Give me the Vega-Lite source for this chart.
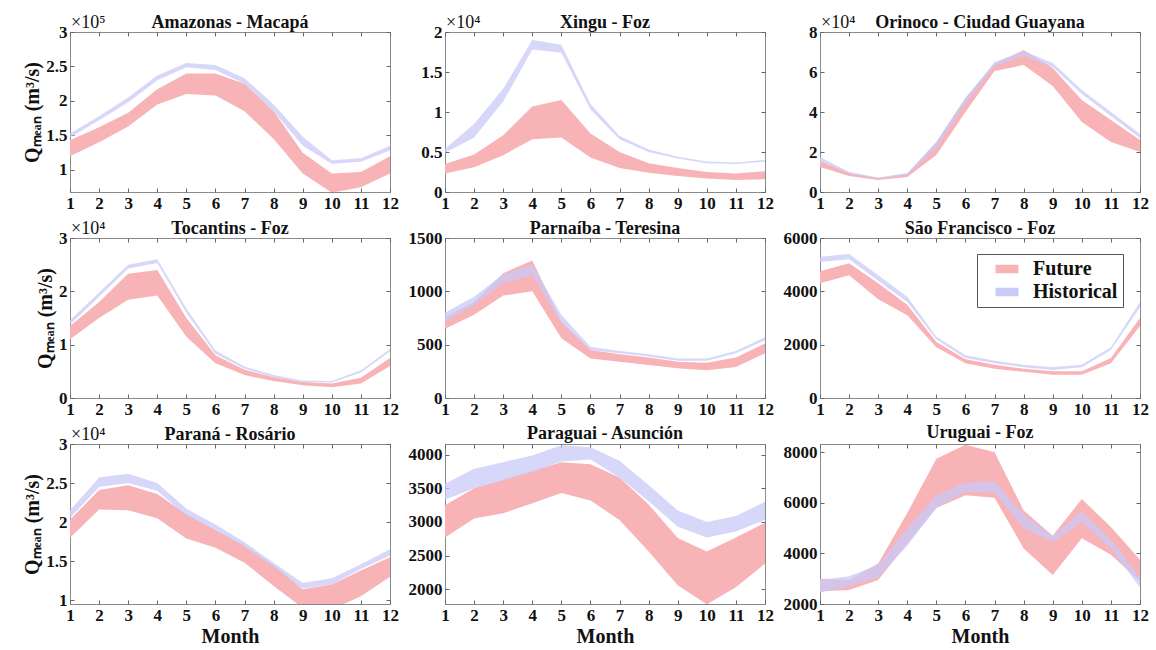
{
"$schema": "https://vega.github.io/schema/vega-lite/v6.json",
"background": "white",
"padding": {"left": 22, "top": 13, "right": 5, "bottom": 0},
"datasets": {
"q": [
{"r":"Amazonas","m":1,"s":"Future","lo":120000,"hi":143000},{"r":"Amazonas","m":2,"s":"Future","lo":140000,"hi":162000},{"r":"Amazonas","m":3,"s":"Future","lo":163000,"hi":183000},{"r":"Amazonas","m":4,"s":"Future","lo":195000,"hi":217000},{"r":"Amazonas","m":5,"s":"Future","lo":210000,"hi":240000},{"r":"Amazonas","m":6,"s":"Future","lo":208000,"hi":240000},{"r":"Amazonas","m":7,"s":"Future","lo":185000,"hi":225000},{"r":"Amazonas","m":8,"s":"Future","lo":145000,"hi":185000},{"r":"Amazonas","m":9,"s":"Future","lo":95000,"hi":125000},{"r":"Amazonas","m":10,"s":"Future","lo":67000,"hi":95000},{"r":"Amazonas","m":11,"s":"Future","lo":75000,"hi":97000},{"r":"Amazonas","m":12,"s":"Future","lo":95000,"hi":120000},
{"r":"Amazonas","m":1,"s":"Historical","lo":147000,"hi":153000},{"r":"Amazonas","m":2,"s":"Historical","lo":172000,"hi":178000},{"r":"Amazonas","m":3,"s":"Historical","lo":198000,"hi":205000},{"r":"Amazonas","m":4,"s":"Historical","lo":230000,"hi":237000},{"r":"Amazonas","m":5,"s":"Historical","lo":249000,"hi":255000},{"r":"Amazonas","m":6,"s":"Historical","lo":245000,"hi":252000},{"r":"Amazonas","m":7,"s":"Historical","lo":225000,"hi":233000},{"r":"Amazonas","m":8,"s":"Historical","lo":185000,"hi":195000},{"r":"Amazonas","m":9,"s":"Historical","lo":135000,"hi":148000},{"r":"Amazonas","m":10,"s":"Historical","lo":109000,"hi":114000},{"r":"Amazonas","m":11,"s":"Historical","lo":112000,"hi":117000},{"r":"Amazonas","m":12,"s":"Historical","lo":128000,"hi":135000},
{"r":"Xingu","m":1,"s":"Future","lo":2300,"hi":3500},{"r":"Xingu","m":2,"s":"Future","lo":3100,"hi":4700},{"r":"Xingu","m":3,"s":"Future","lo":4600,"hi":7100},{"r":"Xingu","m":4,"s":"Future","lo":6600,"hi":10700},{"r":"Xingu","m":5,"s":"Future","lo":6800,"hi":11500},{"r":"Xingu","m":6,"s":"Future","lo":4300,"hi":7300},{"r":"Xingu","m":7,"s":"Future","lo":3000,"hi":5000},{"r":"Xingu","m":8,"s":"Future","lo":2400,"hi":3600},{"r":"Xingu","m":9,"s":"Future","lo":2000,"hi":3000},{"r":"Xingu","m":10,"s":"Future","lo":1700,"hi":2500},{"r":"Xingu","m":11,"s":"Future","lo":1500,"hi":2300},{"r":"Xingu","m":12,"s":"Future","lo":1600,"hi":2600},
{"r":"Xingu","m":1,"s":"Historical","lo":4900,"hi":5400},{"r":"Xingu","m":2,"s":"Historical","lo":6800,"hi":8500},{"r":"Xingu","m":3,"s":"Historical","lo":11300,"hi":12900},{"r":"Xingu","m":4,"s":"Historical","lo":17800,"hi":19000},{"r":"Xingu","m":5,"s":"Historical","lo":17400,"hi":18400},{"r":"Xingu","m":6,"s":"Historical","lo":10300,"hi":11000},{"r":"Xingu","m":7,"s":"Historical","lo":6600,"hi":7000},{"r":"Xingu","m":8,"s":"Historical","lo":5000,"hi":5300},{"r":"Xingu","m":9,"s":"Historical","lo":4200,"hi":4400},{"r":"Xingu","m":10,"s":"Historical","lo":3600,"hi":3800},{"r":"Xingu","m":11,"s":"Historical","lo":3500,"hi":3700},{"r":"Xingu","m":12,"s":"Historical","lo":3800,"hi":4000},
{"r":"Orinoco","m":1,"s":"Future","lo":12500,"hi":15500},{"r":"Orinoco","m":2,"s":"Future","lo":8000,"hi":9500},{"r":"Orinoco","m":3,"s":"Future","lo":6000,"hi":7000},{"r":"Orinoco","m":4,"s":"Future","lo":7500,"hi":9000},{"r":"Orinoco","m":5,"s":"Future","lo":18500,"hi":25000},{"r":"Orinoco","m":6,"s":"Future","lo":40000,"hi":47000},{"r":"Orinoco","m":7,"s":"Future","lo":60500,"hi":64000},{"r":"Orinoco","m":8,"s":"Future","lo":63500,"hi":71000},{"r":"Orinoco","m":9,"s":"Future","lo":53000,"hi":62000},{"r":"Orinoco","m":10,"s":"Future","lo":35000,"hi":46000},{"r":"Orinoco","m":11,"s":"Future","lo":25000,"hi":36000},{"r":"Orinoco","m":12,"s":"Future","lo":20000,"hi":26000},
{"r":"Orinoco","m":1,"s":"Historical","lo":15500,"hi":17500},{"r":"Orinoco","m":2,"s":"Historical","lo":9000,"hi":10000},{"r":"Orinoco","m":3,"s":"Historical","lo":6500,"hi":7200},{"r":"Orinoco","m":4,"s":"Historical","lo":8500,"hi":9500},{"r":"Orinoco","m":5,"s":"Historical","lo":22000,"hi":25000},{"r":"Orinoco","m":6,"s":"Historical","lo":44000,"hi":47000},{"r":"Orinoco","m":7,"s":"Historical","lo":63000,"hi":65000},{"r":"Orinoco","m":8,"s":"Historical","lo":68000,"hi":70500},{"r":"Orinoco","m":9,"s":"Historical","lo":62500,"hi":64500},{"r":"Orinoco","m":10,"s":"Historical","lo":49000,"hi":51000},{"r":"Orinoco","m":11,"s":"Historical","lo":38000,"hi":40000},{"r":"Orinoco","m":12,"s":"Historical","lo":27000,"hi":29000},
{"r":"Tocantins","m":1,"s":"Future","lo":11000,"hi":13500},{"r":"Tocantins","m":2,"s":"Future","lo":15000,"hi":18000},{"r":"Tocantins","m":3,"s":"Future","lo":18400,"hi":23300},{"r":"Tocantins","m":4,"s":"Future","lo":19200,"hi":24000},{"r":"Tocantins","m":5,"s":"Future","lo":11500,"hi":15000},{"r":"Tocantins","m":6,"s":"Future","lo":6500,"hi":8000},{"r":"Tocantins","m":7,"s":"Future","lo":4300,"hi":5300},{"r":"Tocantins","m":8,"s":"Future","lo":3200,"hi":3900},{"r":"Tocantins","m":9,"s":"Future","lo":2400,"hi":3000},{"r":"Tocantins","m":10,"s":"Future","lo":2000,"hi":2700},{"r":"Tocantins","m":11,"s":"Future","lo":2700,"hi":3800},{"r":"Tocantins","m":12,"s":"Future","lo":6000,"hi":7500},
{"r":"Tocantins","m":1,"s":"Historical","lo":13800,"hi":14600},{"r":"Tocantins","m":2,"s":"Historical","lo":19000,"hi":19800},{"r":"Tocantins","m":3,"s":"Historical","lo":24300,"hi":25000},{"r":"Tocantins","m":4,"s":"Historical","lo":25300,"hi":26000},{"r":"Tocantins","m":5,"s":"Historical","lo":16000,"hi":16800},{"r":"Tocantins","m":6,"s":"Historical","lo":8300,"hi":8900},{"r":"Tocantins","m":7,"s":"Historical","lo":5500,"hi":5900},{"r":"Tocantins","m":8,"s":"Historical","lo":3900,"hi":4300},{"r":"Tocantins","m":9,"s":"Historical","lo":3000,"hi":3300},{"r":"Tocantins","m":10,"s":"Historical","lo":2900,"hi":3200},{"r":"Tocantins","m":11,"s":"Historical","lo":4800,"hi":5200},{"r":"Tocantins","m":12,"s":"Historical","lo":8700,"hi":9200},
{"r":"Parnaiba","m":1,"s":"Future","lo":650,"hi":760},{"r":"Parnaiba","m":2,"s":"Future","lo":780,"hi":900},{"r":"Parnaiba","m":3,"s":"Future","lo":960,"hi":1170},{"r":"Parnaiba","m":4,"s":"Future","lo":1000,"hi":1290},{"r":"Parnaiba","m":5,"s":"Future","lo":560,"hi":720},{"r":"Parnaiba","m":6,"s":"Future","lo":370,"hi":450},{"r":"Parnaiba","m":7,"s":"Future","lo":340,"hi":410},{"r":"Parnaiba","m":8,"s":"Future","lo":310,"hi":380},{"r":"Parnaiba","m":9,"s":"Future","lo":280,"hi":340},{"r":"Parnaiba","m":10,"s":"Future","lo":260,"hi":330},{"r":"Parnaiba","m":11,"s":"Future","lo":290,"hi":380},{"r":"Parnaiba","m":12,"s":"Future","lo":420,"hi":510},
{"r":"Parnaiba","m":1,"s":"Historical","lo":720,"hi":800},{"r":"Parnaiba","m":2,"s":"Historical","lo":870,"hi":950},{"r":"Parnaiba","m":3,"s":"Historical","lo":1080,"hi":1160},{"r":"Parnaiba","m":4,"s":"Historical","lo":1150,"hi":1250},{"r":"Parnaiba","m":5,"s":"Historical","lo":700,"hi":780},{"r":"Parnaiba","m":6,"s":"Historical","lo":450,"hi":480},{"r":"Parnaiba","m":7,"s":"Historical","lo":420,"hi":440},{"r":"Parnaiba","m":8,"s":"Historical","lo":390,"hi":410},{"r":"Parnaiba","m":9,"s":"Historical","lo":350,"hi":370},{"r":"Parnaiba","m":10,"s":"Historical","lo":350,"hi":370},{"r":"Parnaiba","m":11,"s":"Historical","lo":420,"hi":440},{"r":"Parnaiba","m":12,"s":"Historical","lo":540,"hi":570},
{"r":"SaoFrancisco","m":1,"s":"Future","lo":4300,"hi":4750},{"r":"SaoFrancisco","m":2,"s":"Future","lo":4600,"hi":5050},{"r":"SaoFrancisco","m":3,"s":"Future","lo":3700,"hi":4300},{"r":"SaoFrancisco","m":4,"s":"Future","lo":3100,"hi":3500},{"r":"SaoFrancisco","m":5,"s":"Future","lo":1900,"hi":2100},{"r":"SaoFrancisco","m":6,"s":"Future","lo":1300,"hi":1450},{"r":"SaoFrancisco","m":7,"s":"Future","lo":1100,"hi":1250},{"r":"SaoFrancisco","m":8,"s":"Future","lo":980,"hi":1100},{"r":"SaoFrancisco","m":9,"s":"Future","lo":870,"hi":1000},{"r":"SaoFrancisco","m":10,"s":"Future","lo":870,"hi":1000},{"r":"SaoFrancisco","m":11,"s":"Future","lo":1300,"hi":1500},{"r":"SaoFrancisco","m":12,"s":"Future","lo":2700,"hi":3000},
{"r":"SaoFrancisco","m":1,"s":"Historical","lo":5100,"hi":5300},{"r":"SaoFrancisco","m":2,"s":"Historical","lo":5200,"hi":5400},{"r":"SaoFrancisco","m":3,"s":"Historical","lo":4400,"hi":4600},{"r":"SaoFrancisco","m":4,"s":"Historical","lo":3600,"hi":3800},{"r":"SaoFrancisco","m":5,"s":"Historical","lo":2200,"hi":2300},{"r":"SaoFrancisco","m":6,"s":"Historical","lo":1500,"hi":1600},{"r":"SaoFrancisco","m":7,"s":"Historical","lo":1300,"hi":1400},{"r":"SaoFrancisco","m":8,"s":"Historical","lo":1150,"hi":1250},{"r":"SaoFrancisco","m":9,"s":"Historical","lo":1050,"hi":1150},{"r":"SaoFrancisco","m":10,"s":"Historical","lo":1150,"hi":1250},{"r":"SaoFrancisco","m":11,"s":"Historical","lo":1800,"hi":1900},{"r":"SaoFrancisco","m":12,"s":"Historical","lo":3400,"hi":3600},
{"r":"Parana","m":1,"s":"Future","lo":18000,"hi":20300},{"r":"Parana","m":2,"s":"Future","lo":21600,"hi":24100},{"r":"Parana","m":3,"s":"Future","lo":21500,"hi":24700},{"r":"Parana","m":4,"s":"Future","lo":20500,"hi":23600},{"r":"Parana","m":5,"s":"Future","lo":17900,"hi":21000},{"r":"Parana","m":6,"s":"Future","lo":16700,"hi":19000},{"r":"Parana","m":7,"s":"Future","lo":14800,"hi":17000},{"r":"Parana","m":8,"s":"Future","lo":11800,"hi":14500},{"r":"Parana","m":9,"s":"Future","lo":9000,"hi":11400},{"r":"Parana","m":10,"s":"Future","lo":8800,"hi":12000},{"r":"Parana","m":11,"s":"Future","lo":10500,"hi":13800},{"r":"Parana","m":12,"s":"Future","lo":13000,"hi":15500},
{"r":"Parana","m":1,"s":"Historical","lo":20500,"hi":21500},{"r":"Parana","m":2,"s":"Historical","lo":24500,"hi":25700},{"r":"Parana","m":3,"s":"Historical","lo":25000,"hi":26200},{"r":"Parana","m":4,"s":"Historical","lo":24000,"hi":25000},{"r":"Parana","m":5,"s":"Historical","lo":20800,"hi":21700},{"r":"Parana","m":6,"s":"Historical","lo":19000,"hi":19700},{"r":"Parana","m":7,"s":"Historical","lo":16800,"hi":17400},{"r":"Parana","m":8,"s":"Historical","lo":14200,"hi":14800},{"r":"Parana","m":9,"s":"Historical","lo":11500,"hi":12200},{"r":"Parana","m":10,"s":"Historical","lo":12000,"hi":12800},{"r":"Parana","m":11,"s":"Historical","lo":14000,"hi":14600},{"r":"Parana","m":12,"s":"Historical","lo":15700,"hi":16500},
{"r":"Paraguai","m":1,"s":"Future","lo":2770,"hi":3250},{"r":"Paraguai","m":2,"s":"Future","lo":3050,"hi":3500},{"r":"Paraguai","m":3,"s":"Future","lo":3130,"hi":3630},{"r":"Paraguai","m":4,"s":"Future","lo":3280,"hi":3760},{"r":"Paraguai","m":5,"s":"Future","lo":3430,"hi":3890},{"r":"Paraguai","m":6,"s":"Future","lo":3320,"hi":3860},{"r":"Paraguai","m":7,"s":"Future","lo":3030,"hi":3660},{"r":"Paraguai","m":8,"s":"Future","lo":2560,"hi":3260},{"r":"Paraguai","m":9,"s":"Future","lo":2060,"hi":2760},{"r":"Paraguai","m":10,"s":"Future","lo":1775,"hi":2560},{"r":"Paraguai","m":11,"s":"Future","lo":2030,"hi":2770},{"r":"Paraguai","m":12,"s":"Future","lo":2380,"hi":2990},
{"r":"Paraguai","m":1,"s":"Historical","lo":3330,"hi":3570},{"r":"Paraguai","m":2,"s":"Historical","lo":3500,"hi":3790},{"r":"Paraguai","m":3,"s":"Historical","lo":3620,"hi":3890},{"r":"Paraguai","m":4,"s":"Historical","lo":3740,"hi":3990},{"r":"Paraguai","m":5,"s":"Historical","lo":3900,"hi":4140},{"r":"Paraguai","m":6,"s":"Historical","lo":3930,"hi":4110},{"r":"Paraguai","m":7,"s":"Historical","lo":3660,"hi":3910},{"r":"Paraguai","m":8,"s":"Historical","lo":3310,"hi":3550},{"r":"Paraguai","m":9,"s":"Historical","lo":2930,"hi":3170},{"r":"Paraguai","m":10,"s":"Historical","lo":2770,"hi":3000},{"r":"Paraguai","m":11,"s":"Historical","lo":2860,"hi":3090},{"r":"Paraguai","m":12,"s":"Historical","lo":3030,"hi":3300},
{"r":"Uruguai","m":1,"s":"Future","lo":2500,"hi":3000},{"r":"Uruguai","m":2,"s":"Future","lo":2550,"hi":2950},{"r":"Uruguai","m":3,"s":"Future","lo":2950,"hi":3600},{"r":"Uruguai","m":4,"s":"Future","lo":4400,"hi":5600},{"r":"Uruguai","m":5,"s":"Future","lo":5800,"hi":7750},{"r":"Uruguai","m":6,"s":"Future","lo":6300,"hi":8300},{"r":"Uruguai","m":7,"s":"Future","lo":6200,"hi":8000},{"r":"Uruguai","m":8,"s":"Future","lo":4200,"hi":5700},{"r":"Uruguai","m":9,"s":"Future","lo":3150,"hi":4700},{"r":"Uruguai","m":10,"s":"Future","lo":4600,"hi":6150},{"r":"Uruguai","m":11,"s":"Future","lo":3950,"hi":5050},{"r":"Uruguai","m":12,"s":"Future","lo":2900,"hi":3750},
{"r":"Uruguai","m":1,"s":"Historical","lo":2450,"hi":2950},{"r":"Uruguai","m":2,"s":"Historical","lo":2700,"hi":3100},{"r":"Uruguai","m":3,"s":"Historical","lo":3050,"hi":3550},{"r":"Uruguai","m":4,"s":"Historical","lo":4300,"hi":5000},{"r":"Uruguai","m":5,"s":"Historical","lo":5800,"hi":6300},{"r":"Uruguai","m":6,"s":"Historical","lo":6450,"hi":6800},{"r":"Uruguai","m":7,"s":"Historical","lo":6400,"hi":6850},{"r":"Uruguai","m":8,"s":"Historical","lo":5000,"hi":5550},{"r":"Uruguai","m":9,"s":"Historical","lo":4450,"hi":4700},{"r":"Uruguai","m":10,"s":"Historical","lo":5250,"hi":5650},{"r":"Uruguai","m":11,"s":"Historical","lo":4200,"hi":4550},{"r":"Uruguai","m":12,"s":"Historical","lo":2650,"hi":3050}
]
},
"columns": 3,
"spacing": {"row": 46, "column": 55},
"bounds": "flush",
"concat": [
{"title": {"text": "Amazonas - Macapá", "offset": -18}, "width": 320, "height": 160, "data": {"name": "q"}, "transform": [{"filter": "datum.r === 'Amazonas'"}],
 "layer": [
  {"transform": [{"filter": "datum.s === 'Future'"}], "mark": {"type": "area", "clip": true, "opacity": 1},
   "encoding": {"x": {"field": "m", "type": "quantitative", "scale": {"domain": [1, 12], "nice": false}, "axis": {"values": [1,2,3,4,5,6,7,8,9,10,11,12], "title": null}},
    "y": {"field": "lo", "type": "quantitative", "scale": {"domain": [68000, 300000], "nice": false, "zero": false}, "axis": {"values": [100000,150000,200000,250000,300000], "labelExpr": "'' + datum.value/100000", "title": "Qₘₑₐₙ (m³/s)"}},
    "y2": {"field": "hi"},
    "color": {"field": "s", "type": "nominal", "scale": {"domain": ["Future", "Historical"], "range": ["#F8B3B6", "#CACAF8"]}, "legend": {"title": null, "orient": "none", "legendX": 907, "legendY": 222}}}},
  {"transform": [{"filter": "datum.s === 'Historical'"}], "mark": {"type": "area", "clip": true, "opacity": 0.75},
   "encoding": {"x": {"field": "m", "type": "quantitative", "axis": {"orient": "top", "values": [1,2,3,4,5,6,7,8,9,10,11,12], "labels": false, "title": null, "minExtent": 0, "maxExtent": 0}},
    "y": {"field": "lo", "type": "quantitative", "axis": {"orient": "right", "values": [100000,150000,200000,250000,300000], "labels": false, "title": null, "minExtent": 0, "maxExtent": 0}},
    "y2": {"field": "hi"},
    "color": {"field": "s", "type": "nominal", "legend": {"title": null, "orient": "none", "legendX": 907, "legendY": 222}}}},
  {"data": {"values": [{"t": "×10⁵"}]}, "mark": {"type": "text", "align": "left", "baseline": "alphabetic", "dy": -4, "dx": 1, "fontSize": 18, "font": "Liberation Serif, Times New Roman, serif", "color": "#111"},
   "encoding": {"x": {"datum": 1, "type": "quantitative", "axis": null}, "y": {"datum": 300000, "type": "quantitative", "axis": null}, "text": {"field": "t"}}}
 ],
 "resolve": {"axis": {"x": "independent", "y": "independent"}}},
{"title": {"text": "Xingu - Foz", "offset": -18}, "width": 320, "height": 160, "data": {"name": "q"}, "transform": [{"filter": "datum.r === 'Xingu'"}],
 "layer": [
  {"transform": [{"filter": "datum.s === 'Future'"}], "mark": {"type": "area", "clip": true, "opacity": 1},
   "encoding": {"x": {"field": "m", "type": "quantitative", "scale": {"domain": [1, 12], "nice": false}, "axis": {"values": [1,2,3,4,5,6,7,8,9,10,11,12], "title": null}},
    "y": {"field": "lo", "type": "quantitative", "scale": {"domain": [0, 20000], "nice": false, "zero": false}, "axis": {"values": [0,5000,10000,15000,20000], "labelExpr": "'' + datum.value/10000", "title": null}},
    "y2": {"field": "hi"},
    "color": {"field": "s", "type": "nominal", "legend": {"title": null, "orient": "none", "legendX": 907, "legendY": 222}}}},
  {"transform": [{"filter": "datum.s === 'Historical'"}], "mark": {"type": "area", "clip": true, "opacity": 0.75},
   "encoding": {"x": {"field": "m", "type": "quantitative", "axis": {"orient": "top", "values": [1,2,3,4,5,6,7,8,9,10,11,12], "labels": false, "title": null, "minExtent": 0, "maxExtent": 0}},
    "y": {"field": "lo", "type": "quantitative", "axis": {"orient": "right", "values": [0,5000,10000,15000,20000], "labels": false, "title": null, "minExtent": 0, "maxExtent": 0}},
    "y2": {"field": "hi"},
    "color": {"field": "s", "type": "nominal", "legend": {"title": null, "orient": "none", "legendX": 907, "legendY": 222}}}},
  {"data": {"values": [{"t": "×10⁴"}]}, "mark": {"type": "text", "align": "left", "baseline": "alphabetic", "dy": -4, "dx": 1, "fontSize": 18, "font": "Liberation Serif, Times New Roman, serif", "color": "#111"},
   "encoding": {"x": {"datum": 1, "type": "quantitative", "axis": null}, "y": {"datum": 20000, "type": "quantitative", "axis": null}, "text": {"field": "t"}}}
 ],
 "resolve": {"axis": {"x": "independent", "y": "independent"}}},
{"title": {"text": "Orinoco - Ciudad Guayana", "offset": -18}, "width": 320, "height": 160, "data": {"name": "q"}, "transform": [{"filter": "datum.r === 'Orinoco'"}],
 "layer": [
  {"transform": [{"filter": "datum.s === 'Future'"}], "mark": {"type": "area", "clip": true, "opacity": 1},
   "encoding": {"x": {"field": "m", "type": "quantitative", "scale": {"domain": [1, 12], "nice": false}, "axis": {"values": [1,2,3,4,5,6,7,8,9,10,11,12], "title": null}},
    "y": {"field": "lo", "type": "quantitative", "scale": {"domain": [0, 80000], "nice": false, "zero": false}, "axis": {"values": [0,20000,40000,60000,80000], "labelExpr": "'' + datum.value/10000", "title": null}},
    "y2": {"field": "hi"},
    "color": {"field": "s", "type": "nominal", "legend": {"title": null, "orient": "none", "legendX": 907, "legendY": 222}}}},
  {"transform": [{"filter": "datum.s === 'Historical'"}], "mark": {"type": "area", "clip": true, "opacity": 0.75},
   "encoding": {"x": {"field": "m", "type": "quantitative", "axis": {"orient": "top", "values": [1,2,3,4,5,6,7,8,9,10,11,12], "labels": false, "title": null, "minExtent": 0, "maxExtent": 0}},
    "y": {"field": "lo", "type": "quantitative", "axis": {"orient": "right", "values": [0,20000,40000,60000,80000], "labels": false, "title": null, "minExtent": 0, "maxExtent": 0}},
    "y2": {"field": "hi"},
    "color": {"field": "s", "type": "nominal", "legend": {"title": null, "orient": "none", "legendX": 907, "legendY": 222}}}},
  {"data": {"values": [{"t": "×10⁴"}]}, "mark": {"type": "text", "align": "left", "baseline": "alphabetic", "dy": -4, "dx": 1, "fontSize": 18, "font": "Liberation Serif, Times New Roman, serif", "color": "#111"},
   "encoding": {"x": {"datum": 1, "type": "quantitative", "axis": null}, "y": {"datum": 80000, "type": "quantitative", "axis": null}, "text": {"field": "t"}}}
 ],
 "resolve": {"axis": {"x": "independent", "y": "independent"}}},
{"title": {"text": "Tocantins - Foz", "offset": -18}, "width": 320, "height": 160, "data": {"name": "q"}, "transform": [{"filter": "datum.r === 'Tocantins'"}],
 "layer": [
  {"transform": [{"filter": "datum.s === 'Future'"}], "mark": {"type": "area", "clip": true, "opacity": 1},
   "encoding": {"x": {"field": "m", "type": "quantitative", "scale": {"domain": [1, 12], "nice": false}, "axis": {"values": [1,2,3,4,5,6,7,8,9,10,11,12], "title": null}},
    "y": {"field": "lo", "type": "quantitative", "scale": {"domain": [0, 30000], "nice": false, "zero": false}, "axis": {"values": [0,10000,20000,30000], "labelExpr": "'' + datum.value/10000", "title": "Qₘₑₐₙ (m³/s)"}},
    "y2": {"field": "hi"},
    "color": {"field": "s", "type": "nominal", "legend": {"title": null, "orient": "none", "legendX": 907, "legendY": 222}}}},
  {"transform": [{"filter": "datum.s === 'Historical'"}], "mark": {"type": "area", "clip": true, "opacity": 0.75},
   "encoding": {"x": {"field": "m", "type": "quantitative", "axis": {"orient": "top", "values": [1,2,3,4,5,6,7,8,9,10,11,12], "labels": false, "title": null, "minExtent": 0, "maxExtent": 0}},
    "y": {"field": "lo", "type": "quantitative", "axis": {"orient": "right", "values": [0,10000,20000,30000], "labels": false, "title": null, "minExtent": 0, "maxExtent": 0}},
    "y2": {"field": "hi"},
    "color": {"field": "s", "type": "nominal", "legend": {"title": null, "orient": "none", "legendX": 907, "legendY": 222}}}},
  {"data": {"values": [{"t": "×10⁴"}]}, "mark": {"type": "text", "align": "left", "baseline": "alphabetic", "dy": -4, "dx": 1, "fontSize": 18, "font": "Liberation Serif, Times New Roman, serif", "color": "#111"},
   "encoding": {"x": {"datum": 1, "type": "quantitative", "axis": null}, "y": {"datum": 30000, "type": "quantitative", "axis": null}, "text": {"field": "t"}}}
 ],
 "resolve": {"axis": {"x": "independent", "y": "independent"}}},
{"title": {"text": "Parnaíba - Teresina", "offset": -9}, "width": 320, "height": 160, "data": {"name": "q"}, "transform": [{"filter": "datum.r === 'Parnaiba'"}],
 "layer": [
  {"transform": [{"filter": "datum.s === 'Future'"}], "mark": {"type": "area", "clip": true, "opacity": 1},
   "encoding": {"x": {"field": "m", "type": "quantitative", "scale": {"domain": [1, 12], "nice": false}, "axis": {"values": [1,2,3,4,5,6,7,8,9,10,11,12], "title": null}},
    "y": {"field": "lo", "type": "quantitative", "scale": {"domain": [0, 1500], "nice": false, "zero": false}, "axis": {"values": [0,500,1000,1500], "format": "d", "title": null}},
    "y2": {"field": "hi"},
    "color": {"field": "s", "type": "nominal", "legend": {"title": null, "orient": "none", "legendX": 907, "legendY": 222}}}},
  {"transform": [{"filter": "datum.s === 'Historical'"}], "mark": {"type": "area", "clip": true, "opacity": 0.75},
   "encoding": {"x": {"field": "m", "type": "quantitative", "axis": {"orient": "top", "values": [1,2,3,4,5,6,7,8,9,10,11,12], "labels": false, "title": null, "minExtent": 0, "maxExtent": 0}},
    "y": {"field": "lo", "type": "quantitative", "axis": {"orient": "right", "values": [0,500,1000,1500], "labels": false, "title": null, "minExtent": 0, "maxExtent": 0}},
    "y2": {"field": "hi"},
    "color": {"field": "s", "type": "nominal", "legend": {"title": null, "orient": "none", "legendX": 907, "legendY": 222}}}}
 ],
 "resolve": {"axis": {"x": "independent", "y": "independent"}}},
{"title": {"text": "São Francisco - Foz", "offset": -9}, "width": 320, "height": 160, "data": {"name": "q"}, "transform": [{"filter": "datum.r === 'SaoFrancisco'"}],
 "layer": [
  {"transform": [{"filter": "datum.s === 'Future'"}], "mark": {"type": "area", "clip": true, "opacity": 1},
   "encoding": {"x": {"field": "m", "type": "quantitative", "scale": {"domain": [1, 12], "nice": false}, "axis": {"values": [1,2,3,4,5,6,7,8,9,10,11,12], "title": null}},
    "y": {"field": "lo", "type": "quantitative", "scale": {"domain": [0, 6000], "nice": false, "zero": false}, "axis": {"values": [0,2000,4000,6000], "format": "d", "title": null}},
    "y2": {"field": "hi"},
    "color": {"field": "s", "type": "nominal", "legend": {"title": null, "orient": "none", "legendX": 907, "legendY": 222}}}},
  {"transform": [{"filter": "datum.s === 'Historical'"}], "mark": {"type": "area", "clip": true, "opacity": 0.75},
   "encoding": {"x": {"field": "m", "type": "quantitative", "axis": {"orient": "top", "values": [1,2,3,4,5,6,7,8,9,10,11,12], "labels": false, "title": null, "minExtent": 0, "maxExtent": 0}},
    "y": {"field": "lo", "type": "quantitative", "axis": {"orient": "right", "values": [0,2000,4000,6000], "labels": false, "title": null, "minExtent": 0, "maxExtent": 0}},
    "y2": {"field": "hi"},
    "color": {"field": "s", "type": "nominal", "legend": {"title": null, "orient": "none", "legendX": 907, "legendY": 222}}}}
 ],
 "resolve": {"axis": {"x": "independent", "y": "independent"}}},
{"title": {"text": "Paraná - Rosário", "offset": -18}, "width": 320, "height": 160, "data": {"name": "q"}, "transform": [{"filter": "datum.r === 'Parana'"}],
 "layer": [
  {"transform": [{"filter": "datum.s === 'Future'"}], "mark": {"type": "area", "clip": true, "opacity": 1},
   "encoding": {"x": {"field": "m", "type": "quantitative", "scale": {"domain": [1, 12], "nice": false}, "axis": {"values": [1,2,3,4,5,6,7,8,9,10,11,12], "title": "Month"}},
    "y": {"field": "lo", "type": "quantitative", "scale": {"domain": [9500, 30000], "nice": false, "zero": false}, "axis": {"values": [10000,15000,20000,25000,30000], "labelExpr": "'' + datum.value/10000", "title": "Qₘₑₐₙ (m³/s)"}},
    "y2": {"field": "hi"},
    "color": {"field": "s", "type": "nominal", "legend": {"title": null, "orient": "none", "legendX": 907, "legendY": 222}}}},
  {"transform": [{"filter": "datum.s === 'Historical'"}], "mark": {"type": "area", "clip": true, "opacity": 0.75},
   "encoding": {"x": {"field": "m", "type": "quantitative", "axis": {"orient": "top", "values": [1,2,3,4,5,6,7,8,9,10,11,12], "labels": false, "title": null, "minExtent": 0, "maxExtent": 0}},
    "y": {"field": "lo", "type": "quantitative", "axis": {"orient": "right", "values": [10000,15000,20000,25000,30000], "labels": false, "title": null, "minExtent": 0, "maxExtent": 0}},
    "y2": {"field": "hi"},
    "color": {"field": "s", "type": "nominal", "legend": {"title": null, "orient": "none", "legendX": 907, "legendY": 222}}}},
  {"data": {"values": [{"t": "×10⁴"}]}, "mark": {"type": "text", "align": "left", "baseline": "alphabetic", "dy": -4, "dx": 1, "fontSize": 18, "font": "Liberation Serif, Times New Roman, serif", "color": "#111"},
   "encoding": {"x": {"datum": 1, "type": "quantitative", "axis": null}, "y": {"datum": 30000, "type": "quantitative", "axis": null}, "text": {"field": "t"}}}
 ],
 "resolve": {"axis": {"x": "independent", "y": "independent"}}},
{"title": {"text": "Paraguai - Asunción", "offset": 1}, "width": 320, "height": 160, "data": {"name": "q"}, "transform": [{"filter": "datum.r === 'Paraguai'"}],
 "layer": [
  {"transform": [{"filter": "datum.s === 'Future'"}], "mark": {"type": "area", "clip": true, "opacity": 1},
   "encoding": {"x": {"field": "m", "type": "quantitative", "scale": {"domain": [1, 12], "nice": false}, "axis": {"values": [1,2,3,4,5,6,7,8,9,10,11,12], "title": "Month"}},
    "y": {"field": "lo", "type": "quantitative", "scale": {"domain": [1780, 4160], "nice": false, "zero": false}, "axis": {"values": [2000,2500,3000,3500,4000], "format": "d", "title": null}},
    "y2": {"field": "hi"},
    "color": {"field": "s", "type": "nominal", "legend": {"title": null, "orient": "none", "legendX": 907, "legendY": 222}}}},
  {"transform": [{"filter": "datum.s === 'Historical'"}], "mark": {"type": "area", "clip": true, "opacity": 0.75},
   "encoding": {"x": {"field": "m", "type": "quantitative", "axis": {"orient": "top", "values": [1,2,3,4,5,6,7,8,9,10,11,12], "labels": false, "title": null, "minExtent": 0, "maxExtent": 0}},
    "y": {"field": "lo", "type": "quantitative", "axis": {"orient": "right", "values": [2000,2500,3000,3500,4000], "labels": false, "title": null, "minExtent": 0, "maxExtent": 0}},
    "y2": {"field": "hi"},
    "color": {"field": "s", "type": "nominal", "legend": {"title": null, "orient": "none", "legendX": 907, "legendY": 222}}}}
 ],
 "resolve": {"axis": {"x": "independent", "y": "independent"}}},
{"title": {"text": "Uruguai - Foz", "offset": 1}, "width": 320, "height": 160, "data": {"name": "q"}, "transform": [{"filter": "datum.r === 'Uruguai'"}],
 "layer": [
  {"transform": [{"filter": "datum.s === 'Future'"}], "mark": {"type": "area", "clip": true, "opacity": 1},
   "encoding": {"x": {"field": "m", "type": "quantitative", "scale": {"domain": [1, 12], "nice": false}, "axis": {"values": [1,2,3,4,5,6,7,8,9,10,11,12], "title": "Month"}},
    "y": {"field": "lo", "type": "quantitative", "scale": {"domain": [2000, 8330], "nice": false, "zero": false}, "axis": {"values": [2000,4000,6000,8000], "format": "d", "title": null}},
    "y2": {"field": "hi"},
    "color": {"field": "s", "type": "nominal", "legend": {"title": null, "orient": "none", "legendX": 907, "legendY": 222}}}},
  {"transform": [{"filter": "datum.s === 'Historical'"}], "mark": {"type": "area", "clip": true, "opacity": 0.75},
   "encoding": {"x": {"field": "m", "type": "quantitative", "axis": {"orient": "top", "values": [1,2,3,4,5,6,7,8,9,10,11,12], "labels": false, "title": null, "minExtent": 0, "maxExtent": 0}},
    "y": {"field": "lo", "type": "quantitative", "axis": {"orient": "right", "values": [2000,4000,6000,8000], "labels": false, "title": null, "minExtent": 0, "maxExtent": 0}},
    "y2": {"field": "hi"},
    "color": {"field": "s", "type": "nominal", "legend": {"title": null, "orient": "none", "legendX": 907, "legendY": 222}}}}
 ],
 "resolve": {"axis": {"x": "independent", "y": "independent"}}}
],
"config": {
 "font": "Liberation Serif, Times New Roman, serif",
 "view": {"stroke": "#8a8a8a", "strokeWidth": 1},
 "title": {"font": "Liberation Serif, Times New Roman, serif", "fontSize": 18, "fontWeight": "bold", "color": "#111", "anchor": "middle", "frame": "group"},
 "axis": {"labelFont": "Liberation Serif, Times New Roman, serif", "labelFontSize": 17, "labelFontWeight": "bold", "labelColor": "#111", "labelFlush": false, "labelOverlap": false, "domain": false, "grid": false, "ticks": true, "tickColor": "#666", "tickSize": -4, "labelPadding": 7, "titleFont": "Liberation Serif, Times New Roman, serif", "titleFontSize": 20, "titleFontWeight": "bold", "titleColor": "#111", "titlePadding": 3},
 "axisX": {"titlePadding": 3},
 "legend": {"labelFont": "Liberation Serif, Times New Roman, serif", "labelFontSize": 20, "labelFontWeight": "bold", "labelColor": "#111", "symbolType": "M-1.35,-0.5H1.35V0.5H-1.35Z", "symbolSize": 289, "symbolStrokeWidth": 0, "symbolOpacity": 1, "strokeColor": "#555", "fillColor": "white", "padding": 5, "rowPadding": 3, "symbolOffset": 15, "labelOffset": 16}
}
}
